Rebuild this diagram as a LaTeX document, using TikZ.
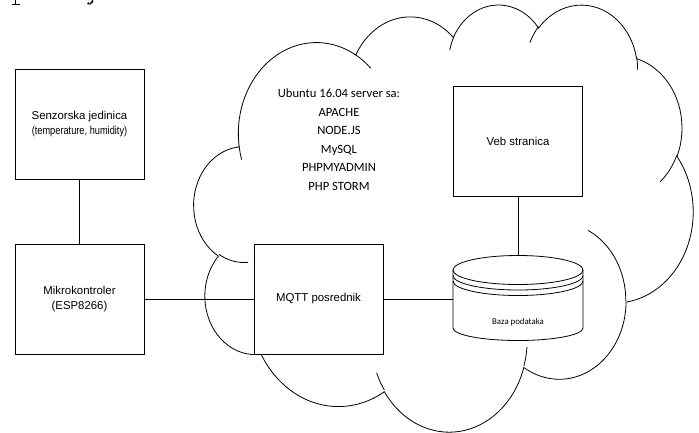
\documentclass[tikz,border=0pt]{standalone}
\usepackage{graphicx}
\usepackage{fontspec}
\setmainfont{Liberation Sans}
\newfontfamily\calfont{Carlito}
\newcommand\ooarc[4]{arc[x radius=#1, y radius=#2, start angle={#3+vcor(#3,#1,#2)}, delta angle={#4+vcor(#3+#4,#1,#2)-vcor(#3,#1,#2)}]}
\begin{document}
\begin{tikzpicture}[x=1pt,y=-1pt,line width=0.8pt,
  declare function={vpar(\qa,\qb,\qc)=atan2(\qb*sin(\qa),\qc*cos(\qa));
                    vcor(\qa,\qb,\qc)=vpar(\qa,\qb,\qc)-\qa-360*round((vpar(\qa,\qb,\qc)-\qa)/360);},
  boxnode/.style={draw,fill=white,minimum width=129,minimum height=110,inner sep=0pt,align=center,
                  font=\fontsize{11.4}{14.3}\selectfont},
  link/.style={draw},
  cloudline/.style={draw},
  glyphbit/.style={line width=1.3pt},
  calnode/.style={inner sep=0pt,align=center}]
\useasboundingbox (0,0) rectangle (699,432);

% descender fragments of a text line cut by the top edge
\draw[glyphbit] (15.5,0) -- (15.5,4.4);
\draw[line width=0.8pt] (12,4.7) -- (19.5,4.7);
\draw[glyphbit] (92.5,0) -- (92.5,1.8) to[out=90,in=0] (89.5,4.4);
\fill (88.3,3.4) circle (1.2);

% cloud (Office preset geometry, units of 1/100 of 43200 box)
\begin{scope}[shift={(194,3.6)},x=1.15509pt,y=-0.98843pt]
  \draw[cloudline,fill=white] (39.00,143.70)
    \ooarc{67.53}{91.90}{-190.48748}{123.78053}
    \ooarc{53.33}{72.67}{-144.10238}{89.94523}
    \ooarc{43.65}{59.45}{-145.80792}{99.72302}
    \ooarc{48.57}{65.95}{-130.98607}{117.24173}
    \ooarc{53.33}{72.73}{-78.70888}{109.02692}
    \ooarc{67.75}{92.20}{-46.26725}{130.269}
    \ooarc{57.85}{78.67}{0.62502}{114.03333}
    \ooarc{67.52}{92.15}{22.4516}{115.17255}
    \ooarc{77.20}{105.43}{66.24263}{75.71102}
    \ooarc{43.60}{59.18}{-274.94208}{146.73557}
    \ooarc{43.45}{59.45}{-246.8285}{152.51885} -- cycle;
  \draw[cloudline] (46.93,261.77) \ooarc{43.45}{59.45}{86.742}{26.4295};
  \draw[cloudline] (69.28,348.99) \ooarc{43.60}{59.18}{73.61047}{11.44747};
  \draw[cloudline] (164.78,390.90) \ooarc{67.52}{92.15}{137.62415}{14.0811};
  \draw[cloudline] (288.27,347.51) \ooarc{67.52}{92.15}{6.45327}{15.99835};
  \draw[cloudline] (341.29,229.54) \ooarc{57.85}{78.67}{-70.29235}{70.91737};
  \draw[cloudline] (417.98,153.54) \ooarc{53.33}{72.73}{30.31803}{27.7515};
  \draw[cloudline] (383.24,54.26) \ooarc{48.57}{65.95}{-13.74433}{14.8589};
  \draw[cloudline] (290.78,39.52) \ooarc{48.57}{65.95}{-149.18145}{18.19537};
  \draw[cloudline] (221.41,47.20) \ooarc{43.65}{59.45}{-163.49427}{17.68635};
  \draw[cloudline] (140.00,51.92) \ooarc{67.53}{91.90}{-66.70695}{12.31935};
  \draw[cloudline] (41.27,157.89) \ooarc{67.53}{91.90}{157.65435}{11.85817};
\end{scope}

% server text
\node[calnode,anchor=north,font=\calfont\fontsize{12.6}{18.5}\selectfont] (srv) at (339,88.6)
  {Ubuntu 16.04 server sa:\\APACHE\\NODE.JS\\MySQL\\PHPMYADMIN\\PHP STORM};

% boxes
\node[boxnode] (senz) at (79.5,124) {Senzorska jedinica\\\scalebox{0.81}[1]{(temperature, humidity)}};
\node[boxnode] (mikro) at (79.5,299) {Mikrokontroler\\(ESP8266)};
\node[boxnode] (mqtt) at (318.5,299) {MQTT posrednik};
\node[boxnode] (veb) at (518,141) {Veb stranica};

% database cylinder
\node[inner sep=0pt,minimum width=130,minimum height=85] (db) at (518,297.5) {};
\draw[fill=white] (453,270) -- (453,328) arc[start angle=180,end angle=0,x radius=65,y radius=12.5]
  -- (583,270) arc[start angle=0,end angle=-180,x radius=65,y radius=14.5] -- cycle;
\draw (453,270) arc[start angle=180,end angle=0,x radius=65,y radius=14.5];
\draw (453,275.5) arc[start angle=180,end angle=0,x radius=65,y radius=14.5];
\draw (453,281) arc[start angle=180,end angle=0,x radius=65,y radius=14.5];
\node[calnode,font=\calfont\fontsize{8.8}{10}\selectfont] (dbtext) at (518,321.7) {Baza podataka};

% connectors
\draw[link] (senz.south) -- (mikro.north);
\draw[link] (mikro.east) -- (mqtt.west);
\draw[link] (mqtt.east) -- (mqtt.east -| db.west);
\draw[link] (veb.south) -- (db.north);
\end{tikzpicture}
\end{document}
